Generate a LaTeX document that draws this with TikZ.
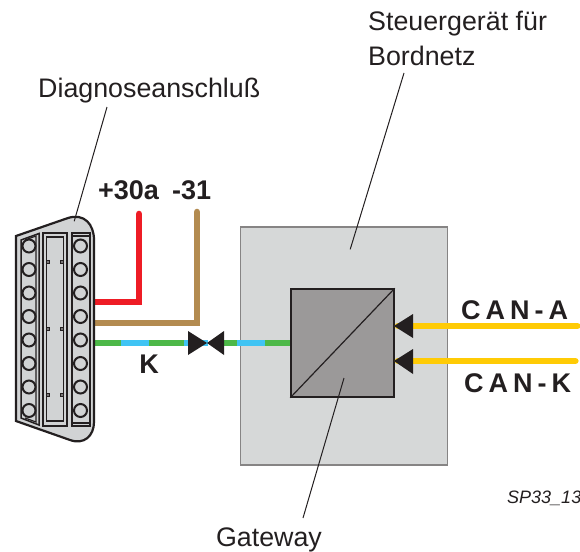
\documentclass[tikz,border=0pt]{standalone}
\usepackage{fontspec}
\setmainfont{Liberation Sans}
\definecolor{ink}{HTML}{231F20}
\definecolor{panel}{HTML}{D6D8D8}
\definecolor{plug}{HTML}{D1D3D4}
\definecolor{core}{HTML}{9B9999}
\definecolor{wred}{HTML}{EE1C25}
\definecolor{wbrown}{HTML}{B38B50}
\definecolor{wgreen}{HTML}{4DB848}
\definecolor{wblue}{HTML}{40C4F4}
\definecolor{wyellow}{HTML}{FFCB05}
\tikzset{
  lbl/.style={font=\fontsize{26.8}{34}\selectfont,text=ink,inner sep=0pt,align=left},
  blbl/.style={font=\fontsize{27}{32}\selectfont\bfseries,text=ink,inner sep=0pt},
  leader/.style={draw=ink,line width=1pt},
  wire/.style={line width=6.6pt,line join=miter},
  wirer/.style={wire,line cap=round},
  seg/.style={line width=6.6pt},
  pin/.style={circle,draw=ink,line width=2pt,minimum size=13pt,inner sep=0pt,fill=plug},
  frame/.style={draw=ink,line width=1.5pt},
  pad/.style={rectangle,draw=ink,line width=1pt,fill=ink!60,minimum size=3pt,inner sep=0pt},
  tip/.style={fill=ink,draw=none}
}
\begin{document}
\begin{tikzpicture}[x=1pt,y=-1pt]
\useasboundingbox (0,0) rectangle (580,551);
\clip (0,0) rectangle (580,551);
% gateway box
\draw[fill=panel,draw=ink!55,line width=1.4pt] (240.5,227) rectangle (447.5,465);
\node[minimum width=0pt,inner sep=0pt] (panelpt) at (350,250) {};
% K line
\coordinate (k0) at (94,343);
\draw[seg,wgreen] (k0) -- (121,343);
\draw[seg,wblue] (121,343) -- (149,343);
\draw[seg,wgreen] (149,343) -- (184,343);
\draw[seg,wblue] (184,343) -- (208,343);
\draw[seg,wgreen] (224,343) -- (237,343);
\draw[seg,wblue] (237,343) -- (265,343);
\draw[seg,wgreen] (265,343) -- (291,343);
% core
\node[draw=ink,line width=1.5pt,fill=core,minimum width=103pt,minimum height=108pt,inner sep=0pt] (core) at (342.5,343) {};
\draw[ink,line width=1.2pt] (core.south west) -- (core.north east);
% valve
\fill[tip] (188,331) -- (207,343) -- (188,355) -- cycle;
\fill[tip] (224,331) -- (207,343) -- (224,355) -- cycle;
% plug wires
\coordinate (r1) at (139,302);
\coordinate (b1) at (197,323);
\draw[wirer,wred] (90,302) -- (r1) -- (139,214);
\draw[wirer,wbrown] (90,323) -- (b1) -- (197,212);
% plug
\draw[fill=plug,draw=ink,line width=2.2pt,line join=miter]
  (16,236) -- (68,218) .. controls (84,213) and (94,224) .. (94,240)
  -- (94,422) .. controls (94,436) and (84,445) .. (70,440) -- (16,421) -- cycle;
\draw[frame] (21,240) -- (39,233.5) -- (39,425) -- (21,418) -- cycle;
\draw[frame,line width=1.2pt] (25,240) -- (36,236) -- (36,422) -- (25,418);
\draw[frame] (43,233) rectangle (67,426);
\draw[frame] (46.5,237) rectangle (63.5,421);
\draw[frame] (72,233) rectangle (90,426);
\draw[frame,line width=1.2pt] (72,236) -- (90,236);
\draw[frame,line width=1.2pt] (72,423) -- (90,423);
\foreach \i/\y in {1/246,2/269.5,3/293,4/316.5,5/340,6/363.5,7/387,8/410.5}{
  \node[pin] (pl\i) at (29,\y) {};
  \node[pin] (pr\i) at (80.5,\y) {};
}
\foreach \y in {262,329,395}{
  \node[pad] at (48,\y) {};
  \node[pad] at (62,\y) {};
}
\node[inner sep=0pt] (plugpt) at (74,222) {};
% CAN lines
\node[inner sep=0pt] (ca) at (578,326) {};
\node[inner sep=0pt] (ck) at (576,361) {};
\draw[wirer,wyellow] (ca) -- (398,326);
\draw[wirer,wyellow] (ck) -- (398,361);
\fill[tip] (394,326) -- (413,314) -- (413,338) -- cycle;
\fill[tip] (394,361) -- (413,349) -- (413,374) -- cycle;
% labels
\node[lbl,anchor=base west] (diag) at (38,97) {Diagnoseanschluß};
\node[lbl,anchor=base west] (steuer) at (368,31) {Steuergerät für};
\node[lbl,anchor=base west] (steuerb) at (368,65) {Bordnetz};
\node[lbl,anchor=base] (gw) at (269,546) {Gateway};
\node[blbl,anchor=base west] (p30) at (98,199) {+30a};
\node[blbl,anchor=base west] (m31) at (172,199) {-31};
\node[blbl,anchor=base] (kl) at (149,373) {K};
\node[blbl,anchor=base west] (cana) at (461,319) {C\kern5pt A\kern5pt N\kern5pt -\kern5pt A};
\node[blbl,anchor=base west] (cank) at (464,392) {C\kern5pt A\kern5pt N\kern5pt -\kern5pt K};
\node[anchor=base west,inner sep=0pt,font=\fontsize{18}{20}\selectfont\itshape,text=ink] (sp) at (507,503) {SP33\_13};
% leaders
\coordinate (d1) at (107,107);
\coordinate (s1) at (404,73);
\coordinate (g1) at (303,518);
\draw[leader] (d1) -- (plugpt);
\draw[leader] (s1) -- (panelpt);
\draw[leader] (g1) -- (344,378);
\end{tikzpicture}
\end{document}
